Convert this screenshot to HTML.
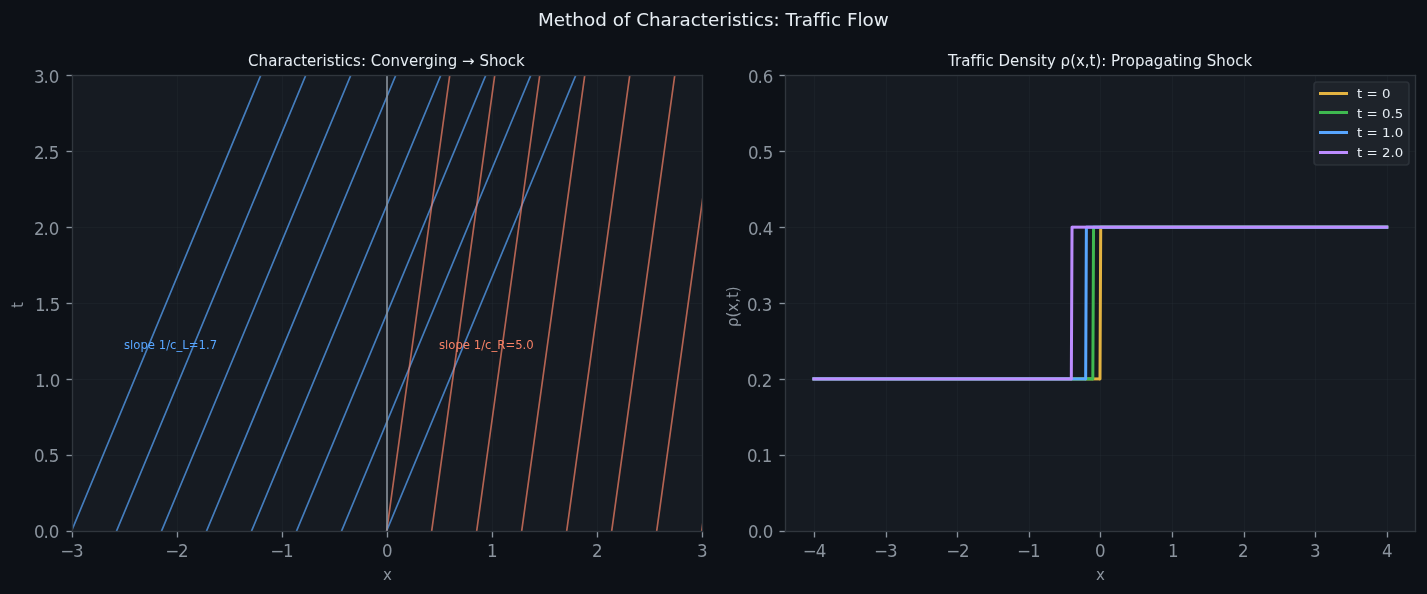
<!DOCTYPE html>
<html lang="en">
<head>
<meta charset="utf-8">
<title>Method of Characteristics: Traffic Flow</title>
<style>
html,body{margin:0;padding:0;background:#0d1117;}
body{width:1427px;height:594px;overflow:hidden;}
svg{display:block;}
text{font-family:"DejaVu Sans","Liberation Sans",sans-serif;white-space:pre;}
.tk{fill:#8b949e;font-size:16.667px;}
.lb{fill:#8b949e;font-size:15px;}
.tt{fill:#e6edf3;font-size:15px;}
.lg{fill:#e6edf3;font-size:13.333px;}
.an{font-size:11.667px;}
.st{fill:#e6edf3;font-size:18.333px;}
</style>
</head>
<body>
<svg width="1427" height="594" viewBox="0 0 1427 594">
<rect x="0" y="0" width="1427" height="594" fill="#0d1117"/>
<!-- axes 1 -->
<rect x="72" y="75" width="630" height="456" fill="#161b22"/>
<svg x="72" y="75" width="630" height="456" viewBox="72 75 630 456" overflow="hidden">
<g fill="#30363d" fill-opacity="0.3">
<rect x="72.083" y="75" width="0.833" height="456"/>
<rect x="177.083" y="75" width="0.833" height="456"/>
<rect x="282.083" y="75" width="0.833" height="456"/>
<rect x="387.083" y="75" width="0.833" height="456"/>
<rect x="492.083" y="75" width="0.833" height="456"/>
<rect x="597.083" y="75" width="0.833" height="456"/>
<rect x="702.083" y="75" width="0.833" height="456"/>
<rect x="72" y="531.083" width="630" height="0.833"/>
<rect x="72" y="455.083" width="630" height="0.833"/>
<rect x="72" y="379.083" width="630" height="0.833"/>
<rect x="72" y="303.083" width="630" height="0.833"/>
<rect x="72" y="227.083" width="630" height="0.833"/>
<rect x="72" y="151.083" width="630" height="0.833"/>
<rect x="72" y="75.083" width="630" height="0.833"/>
</g>
<line x1="71.708" y1="530.667" x2="260.721" y2="75.4" stroke="#58a6ff" stroke-width="1.667" stroke-opacity="0.7" stroke-linecap="square"/>
<line x1="116.711" y1="530.667" x2="305.724" y2="75.4" stroke="#58a6ff" stroke-width="1.667" stroke-opacity="0.7" stroke-linecap="square"/>
<line x1="161.714" y1="530.667" x2="350.727" y2="75.4" stroke="#58a6ff" stroke-width="1.667" stroke-opacity="0.7" stroke-linecap="square"/>
<line x1="206.717" y1="530.667" x2="395.73" y2="75.4" stroke="#58a6ff" stroke-width="1.667" stroke-opacity="0.7" stroke-linecap="square"/>
<line x1="251.72" y1="530.667" x2="440.733" y2="75.4" stroke="#58a6ff" stroke-width="1.667" stroke-opacity="0.7" stroke-linecap="square"/>
<line x1="296.723" y1="530.667" x2="485.736" y2="75.4" stroke="#58a6ff" stroke-width="1.667" stroke-opacity="0.7" stroke-linecap="square"/>
<line x1="341.726" y1="530.667" x2="530.739" y2="75.4" stroke="#58a6ff" stroke-width="1.667" stroke-opacity="0.7" stroke-linecap="square"/>
<line x1="386.729" y1="530.667" x2="575.742" y2="75.4" stroke="#58a6ff" stroke-width="1.667" stroke-opacity="0.7" stroke-linecap="square"/>
<line x1="386.729" y1="530.667" x2="449.733" y2="75.4" stroke="#f78166" stroke-width="1.667" stroke-opacity="0.7" stroke-linecap="square"/>
<line x1="431.732" y1="530.667" x2="494.736" y2="75.4" stroke="#f78166" stroke-width="1.667" stroke-opacity="0.7" stroke-linecap="square"/>
<line x1="476.735" y1="530.667" x2="539.739" y2="75.4" stroke="#f78166" stroke-width="1.667" stroke-opacity="0.7" stroke-linecap="square"/>
<line x1="521.738" y1="530.667" x2="584.742" y2="75.4" stroke="#f78166" stroke-width="1.667" stroke-opacity="0.7" stroke-linecap="square"/>
<line x1="566.741" y1="530.667" x2="629.745" y2="75.4" stroke="#f78166" stroke-width="1.667" stroke-opacity="0.7" stroke-linecap="square"/>
<line x1="611.744" y1="530.667" x2="674.748" y2="75.4" stroke="#f78166" stroke-width="1.667" stroke-opacity="0.7" stroke-linecap="square"/>
<line x1="656.747" y1="530.667" x2="719.751" y2="75.4" stroke="#f78166" stroke-width="1.667" stroke-opacity="0.7" stroke-linecap="square"/>
<line x1="701.75" y1="530.667" x2="764.754" y2="75.4" stroke="#f78166" stroke-width="1.667" stroke-opacity="0.7" stroke-linecap="square"/>
<rect x="386" y="74" width="2" height="458" fill="#8b949e" fill-opacity="0.8"/>
</svg>
<g fill="#8b949e">
<rect x="71.833" y="531.5" width="1.333" height="6"/>
<rect x="176.833" y="531.5" width="1.333" height="6"/>
<rect x="281.833" y="531.5" width="1.333" height="6"/>
<rect x="386.833" y="531.5" width="1.333" height="6"/>
<rect x="491.833" y="531.5" width="1.333" height="6"/>
<rect x="596.833" y="531.5" width="1.333" height="6"/>
<rect x="701.833" y="531.5" width="1.333" height="6"/>
<rect x="66.5" y="530.833" width="6" height="1.333"/>
<rect x="66.5" y="454.833" width="6" height="1.333"/>
<rect x="66.5" y="378.833" width="6" height="1.333"/>
<rect x="66.5" y="302.833" width="6" height="1.333"/>
<rect x="66.5" y="226.833" width="6" height="1.333"/>
<rect x="66.5" y="150.833" width="6" height="1.333"/>
<rect x="66.5" y="74.833" width="6" height="1.333"/>
</g>
<g fill="#30363d">
<rect x="71.833" y="74.833" width="1.333" height="457.333"/>
<rect x="701.833" y="74.833" width="1.333" height="457.333"/>
<rect x="71.833" y="530.833" width="631.333" height="1.333"/>
<rect x="71.833" y="74.833" width="631.333" height="1.333"/>
</g>
<!-- axes 2 -->
<rect x="785" y="75" width="630" height="456" fill="#161b22"/>
<svg x="785" y="75" width="630" height="456" viewBox="785 75 630 456" overflow="hidden">
<g fill="#30363d" fill-opacity="0.3">
<rect x="814.083" y="75" width="0.833" height="456"/>
<rect x="886.083" y="75" width="0.833" height="456"/>
<rect x="957.083" y="75" width="0.833" height="456"/>
<rect x="1029.083" y="75" width="0.833" height="456"/>
<rect x="1100.083" y="75" width="0.833" height="456"/>
<rect x="1172.083" y="75" width="0.833" height="456"/>
<rect x="1244.083" y="75" width="0.833" height="456"/>
<rect x="1315.083" y="75" width="0.833" height="456"/>
<rect x="1387.083" y="75" width="0.833" height="456"/>
<rect x="785" y="531.083" width="630" height="0.833"/>
<rect x="785" y="455.083" width="630" height="0.833"/>
<rect x="785" y="379.083" width="630" height="0.833"/>
<rect x="785" y="303.083" width="630" height="0.833"/>
<rect x="785" y="227.083" width="630" height="0.833"/>
<rect x="785" y="151.083" width="630" height="0.833"/>
<rect x="785" y="75.083" width="630" height="0.833"/>
</g>
<g stroke="#e3b341" stroke-width="3" fill="none">
<rect x="812.472" y="377.411" width="287.524" height="3" fill="#e3b341" stroke="none"/>
<line x1="1099.996" y1="378.911" x2="1100.713" y2="227.156" stroke-linecap="round"/>
<rect x="1100.713" y="225.656" width="287.524" height="3" fill="#e3b341" stroke="none"/>
</g>
<g stroke="#3fb950" stroke-width="3" fill="none">
<rect x="812.472" y="377.411" width="280.356" height="3" fill="#3fb950" stroke="none"/>
<line x1="1092.827" y1="378.911" x2="1093.544" y2="227.156" stroke-linecap="round"/>
<rect x="1093.544" y="225.656" width="294.693" height="3" fill="#3fb950" stroke="none"/>
</g>
<g stroke="#58a6ff" stroke-width="3" fill="none">
<rect x="812.472" y="377.411" width="273.187" height="3" fill="#58a6ff" stroke="none"/>
<line x1="1085.659" y1="378.911" x2="1086.376" y2="227.156" stroke-linecap="round"/>
<rect x="1086.376" y="225.656" width="301.861" height="3" fill="#58a6ff" stroke="none"/>
</g>
<g stroke="#bc8cff" stroke-width="3" fill="none">
<rect x="812.472" y="377.411" width="258.85" height="3" fill="#bc8cff" stroke="none"/>
<line x1="1071.322" y1="378.911" x2="1072.038" y2="227.156" stroke-linecap="round"/>
<rect x="1072.038" y="225.656" width="316.198" height="3" fill="#bc8cff" stroke="none"/>
</g>
</svg>
<path d="M1317 165 L1406 165 Q1409 165 1409 162 L1409 85 Q1409 82 1406 82 L1317 82 Q1314 82 1314 85 L1314 162 Q1314 165 1317 165 Z" fill="#21262d" fill-opacity="0.8" stroke="#30363d" stroke-opacity="0.8" stroke-width="1.667" stroke-linejoin="miter"/>
<rect x="1319" y="92" width="29" height="3" fill="#e3b341"/>
<rect x="1319" y="111" width="29" height="3" fill="#3fb950"/>
<rect x="1319" y="131" width="29" height="3" fill="#58a6ff"/>
<rect x="1319" y="151" width="29" height="3" fill="#bc8cff"/>
<g fill="#8b949e">
<rect x="813.833" y="531.5" width="1.333" height="6"/>
<rect x="885.833" y="531.5" width="1.333" height="6"/>
<rect x="956.833" y="531.5" width="1.333" height="6"/>
<rect x="1028.833" y="531.5" width="1.333" height="6"/>
<rect x="1099.833" y="531.5" width="1.333" height="6"/>
<rect x="1171.833" y="531.5" width="1.333" height="6"/>
<rect x="1243.833" y="531.5" width="1.333" height="6"/>
<rect x="1314.833" y="531.5" width="1.333" height="6"/>
<rect x="1386.833" y="531.5" width="1.333" height="6"/>
<rect x="779.5" y="530.833" width="6" height="1.333"/>
<rect x="779.5" y="454.833" width="6" height="1.333"/>
<rect x="779.5" y="378.833" width="6" height="1.333"/>
<rect x="779.5" y="302.833" width="6" height="1.333"/>
<rect x="779.5" y="226.833" width="6" height="1.333"/>
<rect x="779.5" y="150.833" width="6" height="1.333"/>
<rect x="779.5" y="74.833" width="6" height="1.333"/>
</g>
<g fill="#30363d">
<rect x="784.833" y="74.833" width="1.333" height="457.333"/>
<rect x="1414.833" y="74.833" width="1.333" height="457.333"/>
<rect x="784.833" y="530.833" width="631.333" height="1.333"/>
<rect x="784.833" y="74.833" width="631.333" height="1.333"/>
</g>
<!-- text -->
<text class="tk" transform="matrix(1 0 0 1.03 0 557)" x="60.208 73.083" y="0">−3</text>
<text class="tk" transform="matrix(1 0 0 1.03 0 557)" x="165.215 178.09" y="0">−2</text>
<text class="tk" transform="matrix(1 0 0 1.03 0 557)" x="270.222 283.097" y="0">−1</text>
<text class="tk" transform="matrix(1 0 0 1.03 0 557)" x="381.979" y="0">0</text>
<text class="tk" transform="matrix(1 0 0 1.03 0 557)" x="486.924" y="0">1</text>
<text class="tk" transform="matrix(1 0 0 1.03 0 557)" x="591.931" y="0">2</text>
<text class="tk" transform="matrix(1 0 0 1.03 0 557)" x="696.937" y="0">3</text>
<text class="tk" transform="matrix(1 0 0 1.03 0 538)" x="34.042 43.542 48.792" y="0">0.0</text>
<text class="tk" transform="matrix(1 0 0 1.03 0 462)" x="34.042 43.542 48.792" y="0">0.5</text>
<text class="tk" transform="matrix(1 0 0 1.03 0 387)" x="34.917 44.542 49.792" y="0">1.0</text>
<text class="tk" transform="matrix(1 0 0 1.03 0 311)" x="34.917 44.542 49.792" y="0">1.5</text>
<text class="tk" transform="matrix(1 0 0 1.03 0 235)" x="33.917 43.542 48.792" y="0">2.0</text>
<text class="tk" transform="matrix(1 0 0 1.03 0 159)" x="33.917 43.542 48.792" y="0">2.5</text>
<text class="tk" transform="matrix(1 0 0 1.03 0 83)" x="33.917 43.542 48.792" y="0">3.0</text>
<text class="tt" x="248.104 258.604 268.229 277.479 283.729 292.979 301.229 307.104 316.354 322.604 326.854 334.729 340.604 344.854 353.104 360.979 365.979 370.729 381.229 390.479 400.104 408.979 418.229 424.229 433.854 438.104 447.729 457.354 462.104 474.729 479.479 488.979 498.604 507.854 516.104" y="66">Characteristics: Converging → Shock</text>
<text class="lb" x="383.042" y="580">x</text>
<text class="lb" transform="translate(23 308.071) rotate(-90)" x="0" y="0">t</text>
<text class="an" x="123.962 129.962 133.337 140.462 147.837 154.962 158.712 166.212 170.087 176.462 182.337 188.712 198.462 205.962 209.712" y="349" fill="#58a6ff">slope 1/c_L=1.7</text>
<text class="an" x="438.983 444.983 448.358 455.483 462.858 469.983 473.733 481.233 485.108 491.483 497.358 505.483 515.233 522.608 526.358" y="349" fill="#f78166">slope 1/c_R=5.0</text>
<text class="tk" transform="matrix(1 0 0 1.03 0 557)" x="802.784 815.659" y="0">−4</text>
<text class="tk" transform="matrix(1 0 0 1.03 0 557)" x="874.067 886.942" y="0">−3</text>
<text class="tk" transform="matrix(1 0 0 1.03 0 557)" x="946.163 959.038" y="0">−2</text>
<text class="tk" transform="matrix(1 0 0 1.03 0 557)" x="1017.009 1029.884" y="0">−1</text>
<text class="tk" transform="matrix(1 0 0 1.03 0 557)" x="1095.104" y="0">0</text>
<text class="tk" transform="matrix(1 0 0 1.03 0 557)" x="1167.887" y="0">1</text>
<text class="tk" transform="matrix(1 0 0 1.03 0 557)" x="1237.983" y="0">2</text>
<text class="tk" transform="matrix(1 0 0 1.03 0 557)" x="1310.079" y="0">3</text>
<text class="tk" transform="matrix(1 0 0 1.03 0 557)" x="1381.987" y="0">4</text>
<text class="tk" transform="matrix(1 0 0 1.03 0 538)" x="747.917 757.417 762.667" y="0">0.0</text>
<text class="tk" transform="matrix(1 0 0 1.03 0 462)" x="747.042 756.542 761.792" y="0">0.1</text>
<text class="tk" transform="matrix(1 0 0 1.03 0 387)" x="747.042 756.542 761.792" y="0">0.2</text>
<text class="tk" transform="matrix(1 0 0 1.03 0 311)" x="747.042 756.542 761.792" y="0">0.3</text>
<text class="tk" transform="matrix(1 0 0 1.03 0 235)" x="747.917 757.417 762.667" y="0">0.4</text>
<text class="tk" transform="matrix(1 0 0 1.03 0 159)" x="747.917 757.417 762.667" y="0">0.5</text>
<text class="tk" transform="matrix(1 0 0 1.03 0 83)" x="747.917 757.417 762.667" y="0">0.6</text>
<text class="tt" x="948.042 955.042 961.292 970.542 975.917 981.292 985.542 993.792 998.542 1010.042 1019.292 1028.917 1036.792 1041.042 1046.917 1055.792 1060.542 1070.167 1075.917 1084.792 1089.542 1095.417 1101.292 1106.292 1111.042 1119.792 1125.667 1134.917 1144.542 1153.792 1163.417 1172.667 1178.542 1182.792 1192.417 1202.042 1206.792 1216.292 1225.917 1235.167 1243.417" y="66">Traffic Density ρ(x,t): Propagating Shock</text>
<text class="lb" x="1095.917" y="580">x</text>
<text class="lb" transform="translate(738 327.008) rotate(-90)" x="0 9.625 15.375 24.25 29 34.875" y="0">ρ(x,t)</text>
<text class="lg" transform="matrix(1 0 0 0.95 0 98)" x="1357 1362.375 1366.625 1377.75 1382" y="0">t = 0</text>
<text class="lg" transform="matrix(1 0 0 0.95 0 118)" x="1357 1362.375 1366.625 1377.75 1382 1390.5 1394.75" y="0">t = 0.5</text>
<text class="lg" transform="matrix(1 0 0 0.95 0 137)" x="1357 1362.375 1366.625 1377.75 1382 1390.5 1394.75" y="0">t = 1.0</text>
<text class="lg" transform="matrix(1 0 0 0.95 0 157)" x="1357 1362.375 1366.625 1377.75 1382 1390.625 1394.875" y="0">t = 2.0</text>
<text class="st" x="538 553.75 565 572.25 583.875 595.125 606.75 612.625 623.875 630.25 636.125 648.875 660.5 671.75 679.375 690.625 700.75 708 719.25 726.875 732 741.5 748.75 753.875 764 773.5 779.625 785.5 794.125 801.75 813 819.375 825.75 830.875 841 846.875 857.375 862.5 873.75" y="26">Method of Characteristics: Traffic Flow</text>
</svg>
</body>
</html>
